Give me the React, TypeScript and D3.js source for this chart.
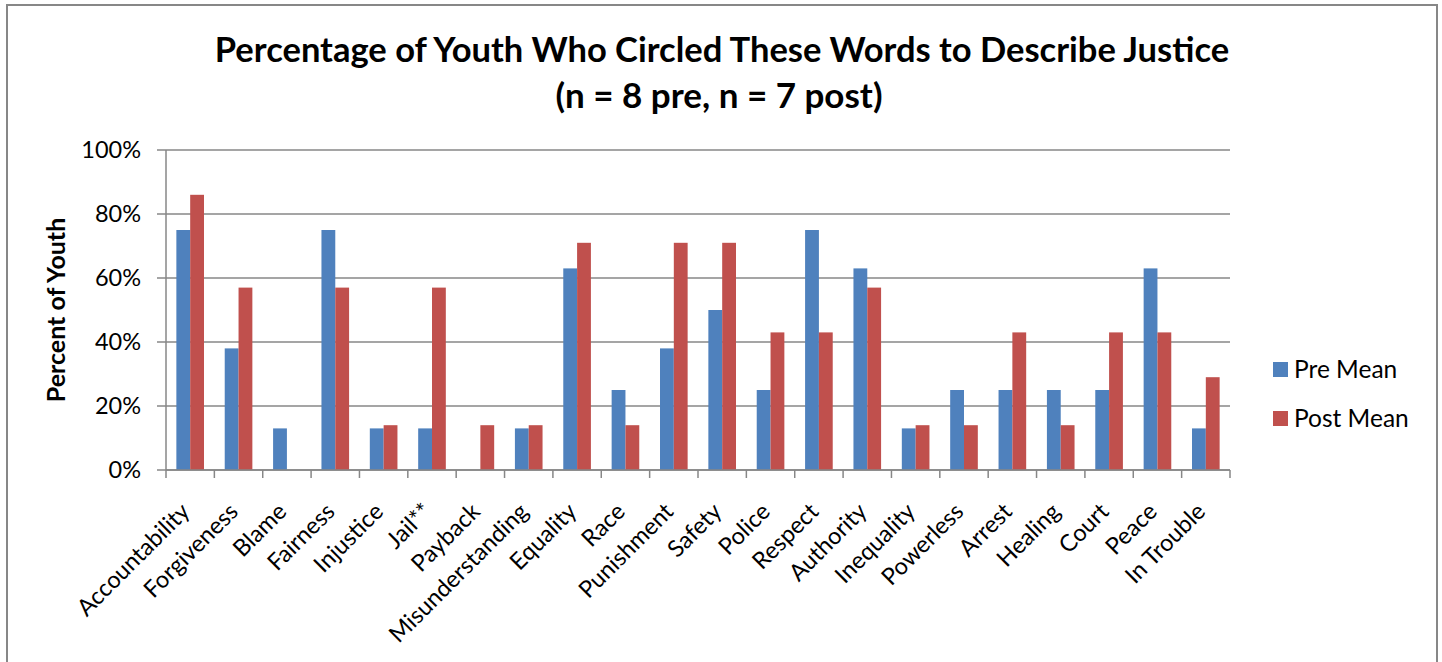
import React from "react";
import * as d3 from "d3";

const categories = ["Accountability","Forgiveness","Blame","Fairness","Injustice","Jail**","Payback","Misunderstanding","Equality","Race","Punishment","Safety","Police","Respect","Authority","Inequality","Powerless","Arrest","Healing","Court","Peace","In Trouble"];
const preMean = [75,38,13,75,13,13,0,13,63,25,38,50,25,75,63,13,25,25,25,25,63,13];
const postMean = [86,57,0,57,14,57,14,14,71,14,71,71,43,43,57,14,14,43,14,43,43,29];
const yTicks = [0,20,40,60,80,100];
const seriesNames = ["Pre Mean","Post Mean"];
const colors = ["#4F81BD","#C0504D"];

const FONT = "Lato, 'Open Sans', sans-serif";

export default function App() {
  const W = 1442, H = 662;
  const left = 166, right = 1230, top = 150, bottom = 470;
  const x = d3.scaleBand<string>().domain(categories).range([left, right]).paddingInner(0).paddingOuter(0);
  const y = d3.scaleLinear().domain([0, 100]).range([bottom, top]);
  const bw = x.bandwidth() / 3.5;
  const gridColor = "#878787";

  return (
    <svg width={W} height={H} style={{ position: "absolute", left: 0, top: 0, background: "#fff" }}>
      <rect x={7} y={5} width={1430} height={670} fill="#fff" stroke="#878787" strokeWidth={2} />
      <text x={722} y={62} textAnchor="middle" fontFamily={FONT} fontWeight="bold" fontSize={34.5} fill="#000">Percentage of Youth Who Circled These Words to Describe Justice</text>
      <text x={719} y={108} textAnchor="middle" fontFamily={FONT} fontWeight="bold" fontSize={35} fill="#000">(n = 8 pre, n = 7 post)</text>
      {yTicks.map(t => (
        <g key={t}>
          <line x1={157} x2={right} y1={y(t)} y2={y(t)} stroke={gridColor} strokeWidth={1.5} />
          <text x={141} y={y(t) + 8} textAnchor="end" fontFamily={FONT} fontSize={23.5} fill="#000">{t}%</text>
        </g>
      ))}
      <line x1={left} x2={left} y1={top} y2={bottom} stroke={gridColor} strokeWidth={1.5} />
      <text transform={`translate(65,${(top + bottom) / 2}) rotate(-90)`} textAnchor="middle" fontFamily={FONT} fontWeight="bold" fontSize={25} fill="#000">Percent of Youth</text>
      {categories.map((c, i) => {
        const x0 = x(c)!;
        return (
          <g key={c}>
            <rect x={x0 + bw * 0.75} y={y(preMean[i])} width={bw} height={bottom - y(preMean[i])} fill={colors[0]} />
            <rect x={x0 + bw * 1.75} y={y(postMean[i])} width={bw} height={bottom - y(postMean[i])} fill={colors[1]} />
          </g>
        );
      })}
      <line x1={left} x2={right} y1={bottom} y2={bottom} stroke={gridColor} strokeWidth={1.5} />
      {d3.range(categories.length + 1).map(i => {
        const xx = left + i * x.bandwidth();
        return <line key={i} x1={xx} x2={xx} y1={bottom} y2={bottom + 8} stroke={gridColor} strokeWidth={1.5} />;
      })}
      {categories.map(c => {
        const cx = x(c)! + x.bandwidth() / 2 - 12;
        return (
          <text key={c} transform={`translate(${cx},${bottom + 30}) rotate(-45)`} textAnchor="end" dominantBaseline="hanging" fontFamily={FONT} fontSize={23.5} fill="#000">{c}</text>
        );
      })}
      {seriesNames.map((s, i) => (
        <g key={s}>
          <rect x={1273} y={362 + i * 49} width={15} height={15} fill={colors[i]} />
          <text x={1294} y={378 + i * 49} fontFamily={FONT} fontSize={24.5} fill="#000">{s}</text>
        </g>
      ))}
    </svg>
  );
}
